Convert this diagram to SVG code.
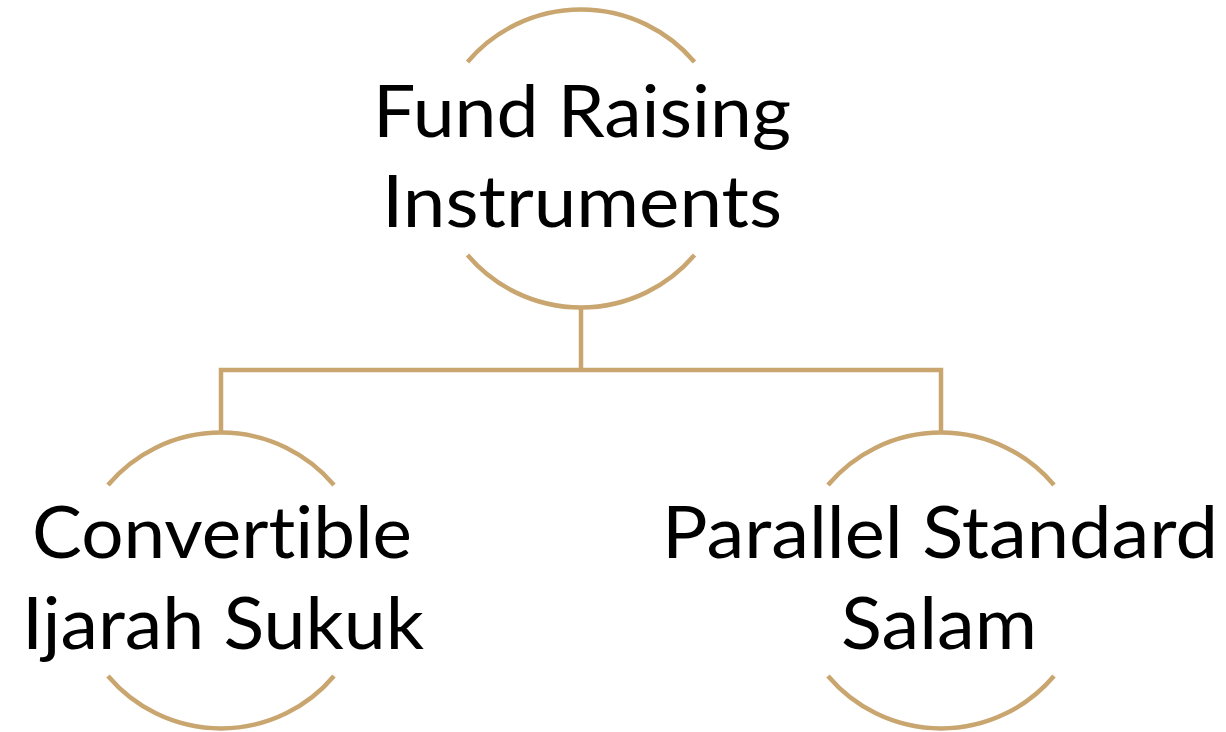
<svg xmlns="http://www.w3.org/2000/svg" width="1226" height="732" viewBox="0 0 1226 732">
<style>
.arc{fill:none;stroke:#C9A66F;stroke-width:4.5}
.conn{fill:none;stroke:#C9A66F;stroke-width:4.5;stroke-linejoin:miter}
.lbl{font-family:Lato,"Open Sans","Liberation Sans",sans-serif;font-size:72px;fill:#000;text-anchor:middle;font-variant-ligatures:none;font-feature-settings:"liga" 0,"clig" 0}
</style>
<rect width="1226" height="732" fill="#fff"/>
<g id="connectors">
<path class="conn" d="M581,307 V370 M221,433 V370 H941 V433"/>
</g>
<g id="node-top">
<path class="arc" d="M467.5,62 A149,149 0 0 1 694.5,62"/>
<path class="arc" d="M467.5,255 A149,149 0 0 0 694.5,255"/>
<text class="lbl" x="582" y="137" textLength="418" lengthAdjust="spacingAndGlyphs">Fund Raising</text>
<text class="lbl" x="582" y="227" textLength="400" lengthAdjust="spacingAndGlyphs">Instruments</text>
</g>
<g id="node-left">
<path class="arc" d="M108,485 A148,148 0 0 1 334,485"/>
<path class="arc" d="M108,676 A148,148 0 0 0 334,676"/>
<text class="lbl" x="222" y="558" textLength="380" lengthAdjust="spacingAndGlyphs">Convertible</text>
<text class="lbl" x="223" y="649" textLength="402" lengthAdjust="spacingAndGlyphs">Ijarah Sukuk</text>
</g>
<g id="node-right">
<path class="arc" d="M828,485 A148,148 0 0 1 1054,485"/>
<path class="arc" d="M828,676 A148,148 0 0 0 1054,676"/>
<text class="lbl" x="940" y="558" textLength="556" lengthAdjust="spacingAndGlyphs">Parallel Standard</text>
<text class="lbl" x="939" y="649" textLength="196" lengthAdjust="spacingAndGlyphs">Salam</text>
</g>
</svg>
